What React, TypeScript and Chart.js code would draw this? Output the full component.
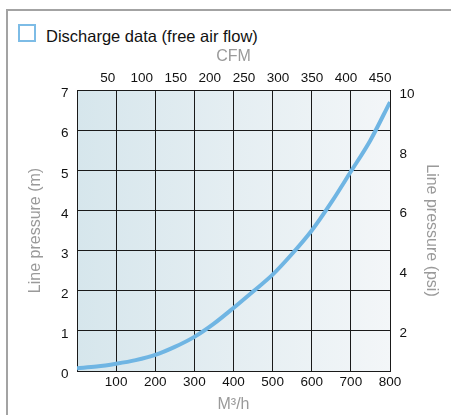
import React, { useEffect, useRef } from "react";
import { Chart, registerables } from "chart.js";

Chart.register(...registerables);

// Flow rate (m³/h) and line pressure (m) of the discharge curve
const flowM3h = [0, 50, 100, 150, 200, 250, 300, 350, 400, 450, 500, 550, 600, 650, 700, 750, 800];
const pressureM = [0.07, 0.11, 0.18, 0.27, 0.4, 0.6, 0.85, 1.18, 1.57, 1.98, 2.4, 2.92, 3.5, 4.2, 4.97, 5.75, 6.7];

// Axis ticks
const xTickValues = [0, 100, 200, 300, 400, 500, 600, 700, 800];
const xTickLabels = ["", "100", "200", "300", "400", "500", "600", "700", "800"];
const yTickValues = [0, 1, 2, 3, 4, 5, 6, 7];
const cfmTickValues = [50, 100, 150, 200, 250, 300, 350, 400, 450];
const psiTickValues = [2, 4, 6, 8, 10];

// Axis ranges
const xRange = [0, 800];
const yRange = [0, 7];
const cfmRange = [4.9, 464.5];
const psiRange = [0.72, 10.14];

const TEXT_FAMILY = "'Liberation Sans', Arial, Helvetica, sans-serif";

const bgPlugin = {
  id: "plotBg",
  beforeDraw(chart: any) {
    const { ctx, chartArea: a } = chart;
    if (!a) return;
    const g = ctx.createLinearGradient(a.left, 0, a.right, 0);
    g.addColorStop(0, "#d6e6ec");
    g.addColorStop(1, "#f3f6f8");
    ctx.save();
    ctx.fillStyle = g;
    ctx.fillRect(a.left, a.top, a.right - a.left, a.bottom - a.top);
    ctx.restore();
  },
};

export default function App() {
  const ref = useRef<HTMLCanvasElement | null>(null);

  useEffect(() => {
    if (!ref.current) return;
    const tickFont = { family: TEXT_FAMILY, size: 13.5 };
    const titleFont = { family: TEXT_FAMILY, size: 16 };
    const lineColor = "#1a1a1a";
    const grey = "#9a9a9a";
    const chart = new Chart(ref.current, {
      type: "line",
      data: {
        datasets: [
          {
            data: flowM3h.map((x, i) => ({ x, y: pressureM[i] })),
            borderColor: "#6fb5e3",
            borderWidth: 4,
            pointRadius: 0,
            tension: 0.4,
            cubicInterpolationMode: "monotone",
            fill: false,
            xAxisID: "x",
            yAxisID: "y",
          },
        ],
      },
      options: {
        responsive: false,
        animation: false,
        layout: { padding: 0 },
        plugins: { legend: { display: false }, tooltip: { enabled: false } },
        scales: {
          x: {
            type: "linear",
            position: "bottom",
            min: xRange[0],
            max: xRange[1],
            afterBuildTicks: (s: any) => {
              s.ticks = xTickValues.map((v) => ({ value: v }));
            },
            ticks: {
              callback: (_v: any, i: number) => xTickLabels[i],
              autoSkip: false,
              maxRotation: 0,
              padding: 2.9,
              color: "#111",
              font: tickFont,
            },
            grid: { color: lineColor, lineWidth: 1, drawTicks: false },
            border: { color: lineColor, width: 1 },
            title: { display: true, text: "M³/h", color: grey, font: titleFont, padding: { top: 0, bottom: 0.4 } },
            afterFit: (s: any) => {
              s.height = 44;
            },
          },
          x2: {
            type: "linear",
            position: "top",
            min: cfmRange[0],
            max: cfmRange[1],
            afterBuildTicks: (s: any) => {
              s.ticks = cfmTickValues.map((v) => ({ value: v }));
            },
            ticks: { autoSkip: false, maxRotation: 0, padding: 3.9, color: "#111", font: tickFont },
            grid: { display: false, drawTicks: false },
            border: { display: true, color: lineColor, width: 1 },
            title: { display: true, text: "CFM", color: grey, font: titleFont, padding: { top: 47.4, bottom: 0 } },
            afterFit: (s: any) => {
              s.height = 90;
            },
          },
          y: {
            type: "linear",
            position: "left",
            min: yRange[0],
            max: yRange[1],
            afterBuildTicks: (s: any) => {
              s.ticks = yTickValues.map((v) => ({ value: v }));
            },
            ticks: { padding: 8.5, labelOffset: 3.5, color: "#111", font: tickFont },
            grid: { color: lineColor, lineWidth: 1, drawTicks: false },
            border: { color: lineColor, width: 1 },
            title: { display: true, text: "Line pressure (m)", color: grey, font: titleFont, padding: { top: 26.4, bottom: 0 } },
            afterFit: (s: any) => {
              s.width = 77;
            },
          },
          y2: {
            type: "linear",
            position: "right",
            min: psiRange[0],
            max: psiRange[1],
            afterBuildTicks: (s: any) => {
              s.ticks = psiTickValues.map((v) => ({ value: v }));
            },
            ticks: { padding: 9.5, color: "#111", font: tickFont },
            grid: { display: false, drawTicks: false },
            border: { display: true, color: lineColor, width: 1 },
            title: { display: true, text: "Line pressure (psi)", color: grey, font: titleFont, padding: { top: 9.9, bottom: 0 } },
            afterFit: (s: any) => {
              s.width = 61;
            },
          },
        },
      } as any,
      plugins: [bgPlugin],
    });
    return () => chart.destroy();
  }, []);

  return (
    <div style={{ position: "fixed", left: 0, top: 0, width: 451, height: 415, background: "#fff", overflow: "hidden" }}>
      <div
        style={{
          position: "absolute",
          left: 6,
          top: 9,
          width: 460,
          height: 420,
          borderLeft: "2px solid #a3a3a3",
          borderTop: "2px solid #a3a3a3",
        }}
      />
      <div
        style={{
          position: "absolute",
          left: 18,
          top: 24,
          width: 18,
          height: 18,
          boxSizing: "border-box",
          border: "2px solid #7dbce6",
        }}
      />
      <div
        style={{
          position: "absolute",
          left: 46,
          top: 27.7,
          fontFamily: TEXT_FAMILY,
          fontSize: 16.5,
          lineHeight: "16.5px",
          color: "#111",
          whiteSpace: "nowrap",
        }}
      >
        Discharge data (free air flow)
      </div>
      <canvas ref={ref} width={451} height={415} style={{ position: "absolute", left: 0, top: 0, width: 451, height: 415 }} />
    </div>
  );
}
